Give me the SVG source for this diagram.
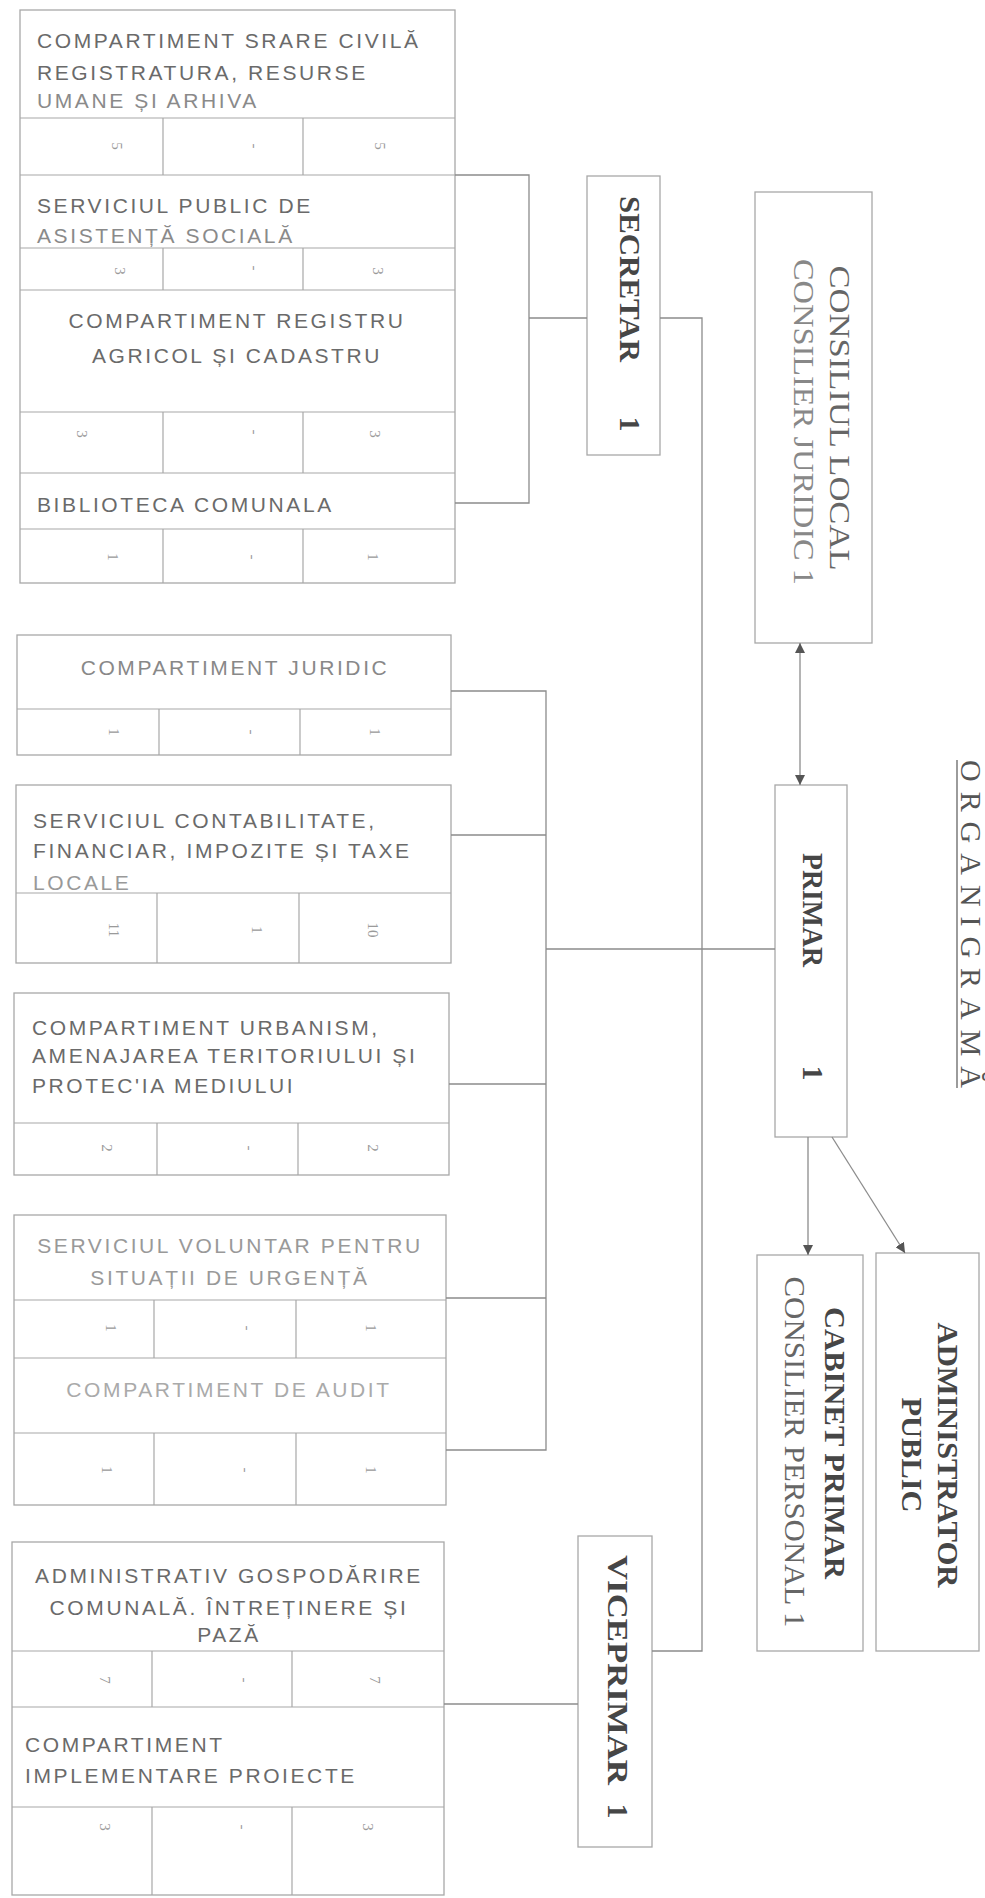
<svg xmlns="http://www.w3.org/2000/svg" width="985" height="1898" viewBox="0 0 985 1898">
<defs>
<style>
.bx{fill:none;stroke:#a8a8a8;stroke-width:1.3}
.ln{fill:none;stroke:#a8a8a8;stroke-width:1.2}
.cn{fill:none;stroke:#8c8c8c;stroke-width:1.3}
.lt{font-family:"Liberation Sans",Arial,sans-serif;font-size:21px;fill:#6a6a6a;letter-spacing:2.6px}
.num{font-family:"Liberation Serif","Times New Roman",serif;font-size:15px;fill:#9a9a9a}
.vb{font-family:"Liberation Serif","Times New Roman",serif;font-weight:bold;font-size:30px;fill:#464646}
.vr{font-family:"Liberation Serif","Times New Roman",serif;font-size:30px;fill:#666}
</style>
<marker id="ah" viewBox="0 0 10 10" refX="10" refY="5" markerWidth="10" markerHeight="10" markerUnits="userSpaceOnUse" orient="auto-start-reverse">
<path d="M0,0 L10,5 L0,10 z" fill="#555"/>
</marker>
</defs>
<rect width="985" height="1898" fill="#fff"/>

<g id="grup-secretar">
<rect class="bx" x="20" y="10" width="435" height="573"/>
<path class="ln" d="M20,118H455 M20,175H455 M20,248H455 M20,290H455 M20,412H455 M20,473H455 M20,529H455 M163,118V175 M303,118V175 M163,248V290 M303,248V290 M163,412V473 M303,412V473 M163,529V583 M303,529V583"/>
</g>
<g id="stare-civila">
<text class="lt" x="37" y="48">COMPARTIMENT SRARE CIVILĂ</text>
<text class="lt" x="37" y="80">REGISTRATURA, RESURSE</text>
<text class="lt" x="37" y="108" style="fill:#8a8a8a">UMANE ȘI ARHIVA</text>
<text class="num" transform="translate(117,146) rotate(90)" text-anchor="middle" y="5">5</text>
<text class="num" transform="translate(255,146) rotate(90)" text-anchor="middle" y="5">-</text>
<text class="num" transform="translate(380,146) rotate(90)" text-anchor="middle" y="5">5</text>
</g>
<g id="asistenta-sociala">
<text class="lt" x="37" y="213">SERVICIUL PUBLIC DE</text>
<text class="lt" x="37" y="243" style="fill:#8a8a8a">ASISTENȚĂ SOCIALĂ</text>
<text class="num" transform="translate(120,271) rotate(90)" text-anchor="middle" y="5">3</text>
<text class="num" transform="translate(255,268) rotate(90)" text-anchor="middle" y="5">-</text>
<text class="num" transform="translate(378,271) rotate(90)" text-anchor="middle" y="5">3</text>
</g>
<g id="registru-agricol">
<text class="lt" x="237" y="328" text-anchor="middle">COMPARTIMENT REGISTRU</text>
<text class="lt" x="237" y="363" text-anchor="middle">AGRICOL ȘI CADASTRU</text>
<text class="num" transform="translate(82,434) rotate(90)" text-anchor="middle" y="5">3</text>
<text class="num" transform="translate(255,432) rotate(90)" text-anchor="middle" y="5">-</text>
<text class="num" transform="translate(375,434) rotate(90)" text-anchor="middle" y="5">3</text>
</g>
<g id="biblioteca">
<text class="lt" x="37" y="512">BIBLIOTECA COMUNALA</text>
<text class="num" transform="translate(113,557) rotate(90)" text-anchor="middle" y="5">1</text>
<text class="num" transform="translate(253,557) rotate(90)" text-anchor="middle" y="5">-</text>
<text class="num" transform="translate(373,557) rotate(90)" text-anchor="middle" y="5">1</text>
</g>

<g id="juridic">
<rect class="bx" x="17" y="635" width="434" height="120"/>
<path class="ln" d="M17,709H451 M159,709V755 M300,709V755"/>
<text class="lt" x="235" y="675" text-anchor="middle" style="fill:#888">COMPARTIMENT JURIDIC</text>
<text class="num" transform="translate(114,732) rotate(90)" text-anchor="middle" y="5">1</text>
<text class="num" transform="translate(252,732) rotate(90)" text-anchor="middle" y="5">-</text>
<text class="num" transform="translate(375,732) rotate(90)" text-anchor="middle" y="5">1</text>
</g>
<g id="contabilitate">
<rect class="bx" x="16" y="785" width="435" height="178"/>
<path class="ln" d="M16,893H451 M157,893V963 M299,893V963"/>
<text class="lt" x="33" y="828">SERVICIUL  CONTABILITATE,</text>
<text class="lt" x="33" y="858">FINANCIAR, IMPOZITE ȘI TAXE</text>
<text class="lt" x="33" y="890" style="fill:#999">LOCALE</text>
<text class="num" transform="translate(114,930) rotate(90)" text-anchor="middle" y="5">11</text>
<text class="num" transform="translate(257,930) rotate(90)" text-anchor="middle" y="5">1</text>
<text class="num" transform="translate(373,930) rotate(90)" text-anchor="middle" y="5">10</text>
</g>
<g id="urbanism">
<rect class="bx" x="14" y="993" width="435" height="182"/>
<path class="ln" d="M14,1123H449 M157,1123V1175 M298,1123V1175"/>
<text class="lt" x="32" y="1035">COMPARTIMENT  URBANISM,</text>
<text class="lt" x="32" y="1063">AMENAJAREA TERITORIULUI ȘI</text>
<text class="lt" x="32" y="1093">PROTEC'IA MEDIULUI</text>
<text class="num" transform="translate(107,1148) rotate(90)" text-anchor="middle" y="5">2</text>
<text class="num" transform="translate(250,1148) rotate(90)" text-anchor="middle" y="5">-</text>
<text class="num" transform="translate(373,1148) rotate(90)" text-anchor="middle" y="5">2</text>
</g>
<g id="voluntar-audit">
<rect class="bx" x="14" y="1215" width="432" height="290"/>
<path class="ln" d="M14,1300H446 M14,1358H446 M14,1433H446 M154,1300V1358 M296,1300V1358 M154,1433V1505 M296,1433V1505"/>
<text class="lt" x="230" y="1253" text-anchor="middle" style="fill:#999">SERVICIUL VOLUNTAR PENTRU</text>
<text class="lt" x="230" y="1285" text-anchor="middle" style="fill:#999">SITUAȚII DE URGENȚĂ</text>
<text class="num" transform="translate(111,1328) rotate(90)" text-anchor="middle" y="5">1</text>
<text class="num" transform="translate(248,1328) rotate(90)" text-anchor="middle" y="5">-</text>
<text class="num" transform="translate(371,1328) rotate(90)" text-anchor="middle" y="5">1</text>
<text class="lt" x="229" y="1397" text-anchor="middle" style="fill:#aaa">COMPARTIMENT DE AUDIT</text>
<text class="num" transform="translate(107,1470) rotate(90)" text-anchor="middle" y="5">1</text>
<text class="num" transform="translate(246,1470) rotate(90)" text-anchor="middle" y="5">-</text>
<text class="num" transform="translate(371,1470) rotate(90)" text-anchor="middle" y="5">1</text>
</g>
<g id="administrativ-proiecte">
<rect class="bx" x="12" y="1542" width="432" height="353"/>
<path class="ln" d="M12,1651H444 M12,1707H444 M12,1807H444 M152,1651V1707 M292,1651V1707 M152,1807V1895 M292,1807V1895"/>
<text class="lt" x="229" y="1583" text-anchor="middle">ADMINISTRATIV GOSPODĂRIRE</text>
<text class="lt" x="229" y="1615" text-anchor="middle">COMUNALĂ. ÎNTREȚINERE ȘI</text>
<text class="lt" x="229" y="1642" text-anchor="middle">PAZĂ</text>
<text class="num" transform="translate(105,1680) rotate(90)" text-anchor="middle" y="5">7</text>
<text class="num" transform="translate(245,1680) rotate(90)" text-anchor="middle" y="5">-</text>
<text class="num" transform="translate(375,1680) rotate(90)" text-anchor="middle" y="5">7</text>
<text class="lt" x="25" y="1752">COMPARTIMENT</text>
<text class="lt" x="25" y="1783">IMPLEMENTARE PROIECTE</text>
<text class="num" transform="translate(105,1827) rotate(90)" text-anchor="middle" y="5">3</text>
<text class="num" transform="translate(243,1827) rotate(90)" text-anchor="middle" y="5">-</text>
<text class="num" transform="translate(368,1827) rotate(90)" text-anchor="middle" y="5">3</text>
</g>

<g id="secretar">
<rect class="bx" x="587" y="176" width="73" height="279"/>
<text class="vb" transform="translate(630,279) rotate(90)" text-anchor="middle" y="10" textLength="166" lengthAdjust="spacingAndGlyphs">SECRETAR</text>
<text class="vb" transform="translate(630,424) rotate(90)" text-anchor="middle" y="10">1</text>
</g>
<g id="consiliul-local">
<rect class="bx" x="755" y="192" width="117" height="451"/>
<text class="vr" transform="translate(840,418) rotate(90)" text-anchor="middle" y="10" textLength="305" lengthAdjust="spacingAndGlyphs">CONSILIUL  LOCAL</text>
<text class="vr" transform="translate(804,422) rotate(90)" text-anchor="middle" y="10" textLength="326" lengthAdjust="spacingAndGlyphs" style="fill:#888">CONSILIER  JURIDIC 1</text>
</g>
<g id="primar">
<rect class="bx" x="775" y="785" width="72" height="352"/>
<text class="vb" transform="translate(813,910) rotate(90)" text-anchor="middle" y="10" textLength="114" lengthAdjust="spacingAndGlyphs">PRIMAR</text>
<text class="vb" transform="translate(813,1073) rotate(90)" text-anchor="middle" y="10">1</text>
</g>
<g id="titlu">
<text class="vr" transform="translate(972,924) rotate(90)" text-anchor="middle" y="11" textLength="328" lengthAdjust="spacing" style="fill:#555">ORGANIGRAMĂ</text>
<line class="cn" x1="957" y1="760" x2="957" y2="1088" style="stroke:#666"/>
</g>
<g id="cabinet-primar">
<rect class="bx" x="757" y="1255" width="106" height="396"/>
<text class="vb" transform="translate(835,1443) rotate(90)" text-anchor="middle" y="10" textLength="272" lengthAdjust="spacingAndGlyphs">CABINET PRIMAR</text>
<text class="vr" transform="translate(795,1452) rotate(90)" text-anchor="middle" y="10" textLength="351" lengthAdjust="spacingAndGlyphs">CONSILIER PERSONAL 1</text>
</g>
<g id="administrator-public">
<rect class="bx" x="876" y="1253" width="103" height="398"/>
<text class="vb" transform="translate(948,1455) rotate(90)" text-anchor="middle" y="10" textLength="265" lengthAdjust="spacingAndGlyphs">ADMINISTRATOR</text>
<text class="vb" transform="translate(912,1455) rotate(90)" text-anchor="middle" y="10" textLength="115" lengthAdjust="spacingAndGlyphs">PUBLIC</text>
</g>
<g id="viceprimar">
<rect class="bx" x="578" y="1536" width="74" height="311"/>
<text class="vb" transform="translate(618,1670) rotate(90)" text-anchor="middle" y="10" textLength="230" lengthAdjust="spacingAndGlyphs">VICEPRIMAR</text>
<text class="vb" transform="translate(618,1811) rotate(90)" text-anchor="middle" y="10">1</text>
</g>

<g id="connectors">
<path class="cn" d="M455,175H529V503H455 M529,318H587"/>
<path class="cn" d="M660,318H702V1651H652"/>
<line class="cn" x1="800" y1="643" x2="800" y2="785" marker-start="url(#ah)" marker-end="url(#ah)"/>
<path class="cn" d="M451,691H546V1450H446 M451,835H546 M449,1084H546 M446,1298H546 M546,949H775"/>
<line class="cn" x1="808" y1="1137" x2="808" y2="1255" marker-end="url(#ah)"/>
<line class="cn" x1="832" y1="1137" x2="905" y2="1253" marker-end="url(#ah)"/>
<path class="cn" d="M444,1704H578"/>
</g>
</svg>
